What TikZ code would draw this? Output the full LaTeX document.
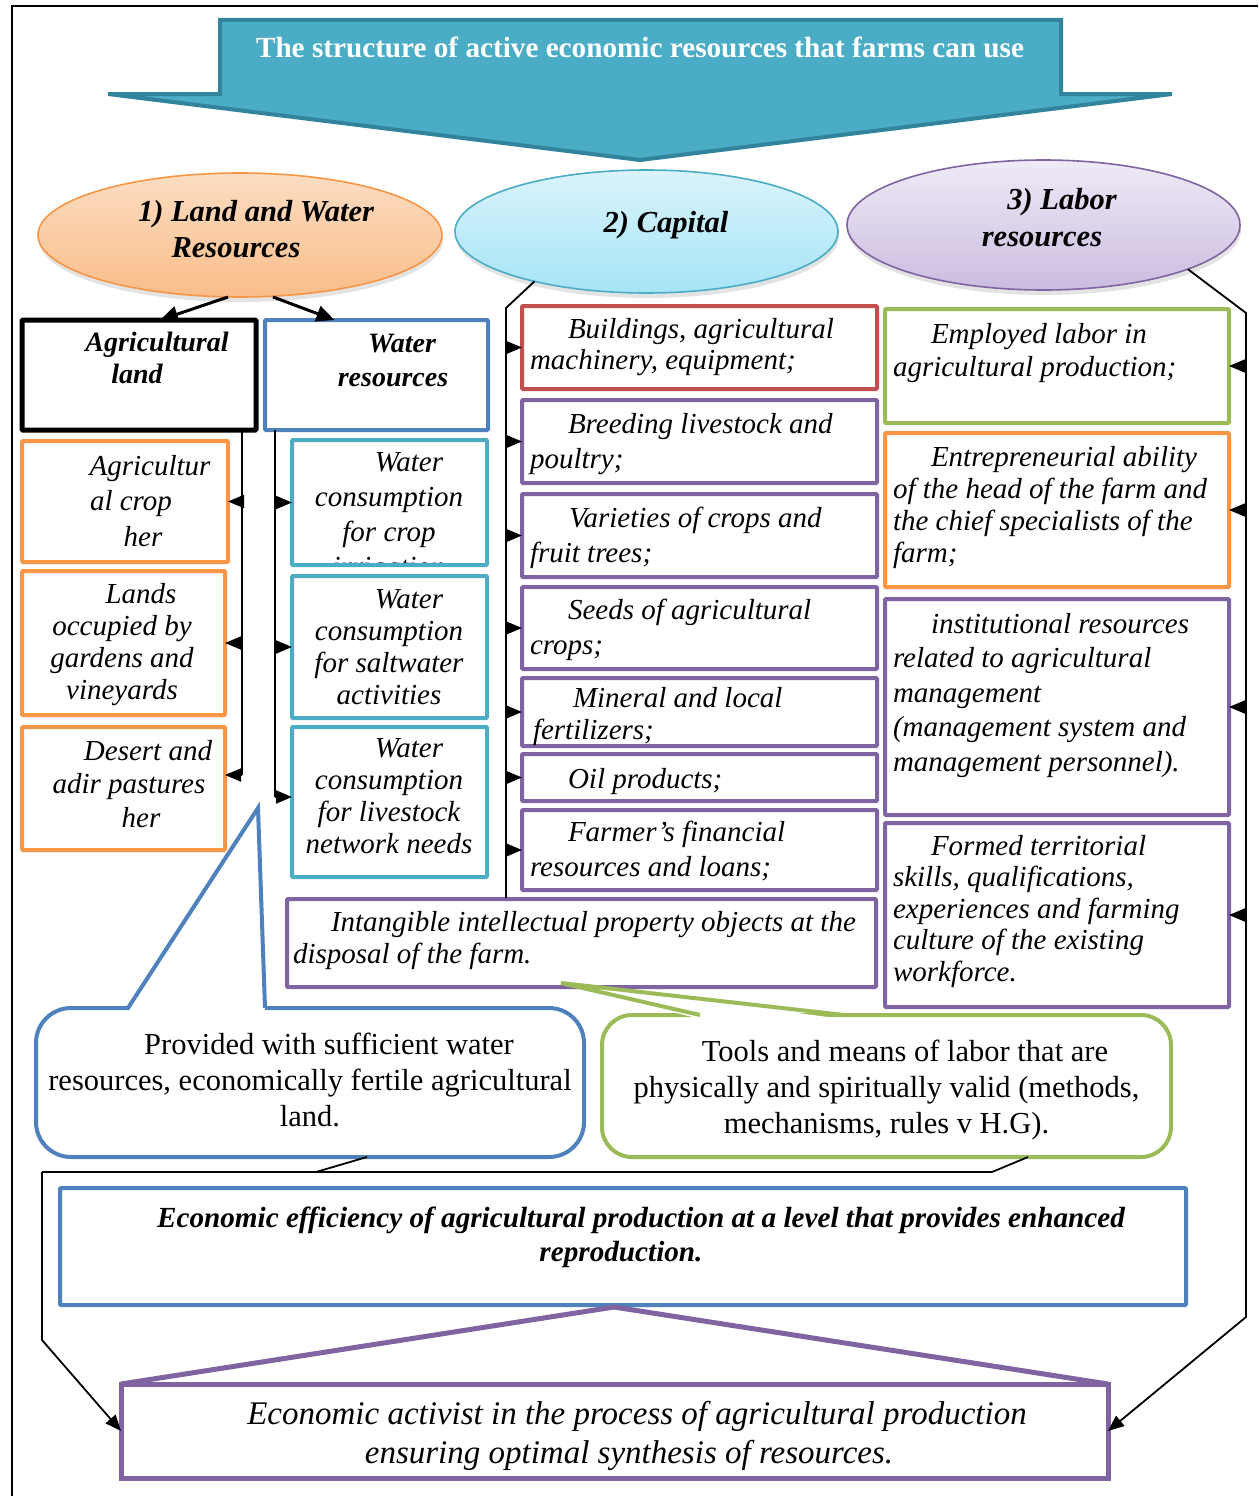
\documentclass[tikz,border=0pt]{standalone}
\usepackage{fontspec}
\setmainfont{Liberation Serif}
\usetikzlibrary{shapes.geometric,arrows.meta,shadows,calc}
\definecolor{cRed}{HTML}{C0504D}
\definecolor{cPur}{HTML}{8064A2}
\definecolor{cOra}{HTML}{F79646}
\definecolor{cGre}{HTML}{9BBB59}
\definecolor{cBlu}{HTML}{4F81BD}
\definecolor{cCya}{HTML}{4BACC6}
\definecolor{cTeal}{HTML}{31849B}
\definecolor{e1t}{HTML}{FCDDC2}
\definecolor{e1b}{HTML}{F9BD8A}
\definecolor{e2t}{HTML}{DAF4FC}
\definecolor{e2b}{HTML}{A6E4F6}
\definecolor{e3t}{HTML}{EFEAF6}
\definecolor{e3b}{HTML}{CBBCE0}
\newcommand\fsz[2]{\fontsize{#1}{#2}\selectfont}
\begin{document}
\begin{tikzpicture}[x=1pt,y=-1pt,
  every node/.style={outer sep=0pt},
  box/.style={draw, line width=4pt, fill=white, inner sep=0pt, anchor=north west, rounded corners=1pt},
  tx/.style={inner sep=0pt, font=\fsz{29}{#1}\itshape},
  tx/.default=33,
  tb/.style={inner sep=0pt, font=\fsz{28}{#1}\bfseries\itshape},
  tb/.default=32,
  tr/.style={inner sep=0pt, font=\fsz{30.5}{36}},
  conn/.style={line width=1.8pt, line join=miter},
  arr/.style={conn, -{Triangle[length=16pt,width=13pt]}},
  bigarr/.style={line width=3pt, -{Triangle[length=18pt,width=16pt]}},
  ell/.style={ellipse, line width=1.6pt, inner sep=0pt, drop shadow={shadow xshift=1pt, shadow yshift=-5pt, opacity=0.22}},
  callout/.style={draw, line width=4pt, fill=white, rounded corners=#1, inner sep=0pt},
]
\useasboundingbox (0,0) rectangle (1258,1496);
\fill[white] (0,0) rectangle (1258,1496);
% frame
\draw[line width=2.5pt] (12,1496) -- (12,6) -- (1258,6);

% title arrow
\draw[line width=4pt, draw=cTeal, fill=cCya, line join=miter]
  (220,20) -- (1061,20) -- (1061,94) -- (1172,94) -- (640,160) -- (108,94) -- (220,94) -- cycle;
\node[inner sep=0pt, text=white, font=\fsz{29.2}{34}\bfseries] (title) at (640,47) {The structure of active economic resources that farms can use};

% ellipses
\node[ell, draw=cOra, top color=e1t, bottom color=e1b, minimum width=404, minimum height=124] (e1) at (240,235) {};
\node[inner sep=0pt, font=\fsz{30.5}{36}\bfseries\itshape, anchor=north, align=center] (e1x) at (236,200) {\hspace*{40pt}1) Land and Water\\Resources};
\node[ell, draw=cCya, top color=e2t, bottom color=e2b, minimum width=383, minimum height=123] (e2) at (646.5,231.5) {};
\node[inner sep=0pt, font=\fsz{30.5}{36}\bfseries\itshape] (e2x) at (666,225) {2) Capital};
\node[ell, draw=cPur, top color=e3t, bottom color=e3b, minimum width=393, minimum height=130] (e3) at (1043.5,225) {};
\node[inner sep=0pt, font=\fsz{30.5}{37}\bfseries\itshape, anchor=north, align=center] (e3x) at (1042,188) {\hspace*{40pt}3) Labor\\resources};

% left column: land
\node[box, draw=black, line width=5pt, minimum width=234, minimum height=110] (ag) at (22,320) {};
\node[tb, anchor=north, align=center] (agt) at (137,332) {\hspace*{40pt}Agricultural\\land};
\node[box, draw=cBlu, minimum width=223, minimum height=110] (wr) at (265,320) {};
\node[tb=34, anchor=north, align=center] (wrt) at (393,334) {\hspace*{18pt}Water\\resources};

\draw[bigarr] ($(e1.south)+(-12,0)$) -- ($(ag.north)+(21,0)$);
\draw[bigarr] ($(e1.south)+(33,0)$) -- ($(wr.north)+(-42,0)$);

\node[box, draw=cOra, minimum width=206, minimum height=121] (o1) at (22,441) {};
\node[tx=35.5, anchor=north, align=center] (o1t) at (131,455) {\hspace*{38pt}Agricultur\\al crop\\\hspace*{24pt}her};
\node[box, draw=cOra, minimum width=203, minimum height=144] (o2) at (22,571) {};
\node[tx=32, anchor=north, align=center] (o2t) at (122,583) {\hspace*{38pt}Lands\\occupied by\\gardens and\\vineyards};
\node[box, draw=cOra, minimum width=203, minimum height=123] (o3) at (22,727) {};
\node[tx=33.5, anchor=north, align=center] (o3t) at (129,740) {\hspace*{38pt}Desert and\\adir pastures\\\hspace*{24pt}her};

\node[box, draw=cCya, minimum width=195, minimum height=125] (w1) at (292,440) {};
\begin{scope}
\clip (294,442) rectangle (485,562);
\node[tx=35, anchor=north, align=center] (w1t) at (389,453) {\hspace*{40pt}Water\\consumption\\for crop\\\smash{irrigation}};
\end{scope}
\node[box, draw=cCya, minimum width=195, minimum height=142] (w2) at (292,576) {};
\node[tx=32, anchor=north, align=center] (w2t) at (389,590) {\hspace*{40pt}Water\\consumption\\for saltwater\\activities};
\node[box, draw=cCya, minimum width=195, minimum height=150] (w3) at (292,727) {};
\node[tx=32, anchor=north, align=center] (w3t) at (389,739) {\hspace*{40pt}Water\\consumption\\for livestock\\network needs};

\coordinate (agS) at (242,430);
\coordinate (agE) at (242,775);
\draw[conn] (agS) -- (agE);
\draw[arr] (agS |- o1.east) -- (o1.east);
\draw[arr] (agS |- o2.east) -- (o2.east);
\draw[arr] (agE) -- (agE -| o3.east);
\coordinate (wrS) at (275,430);
\coordinate (wrE) at (275,797);
\draw[conn] (wrS) -- (wrE);
\draw[arr] (wrS |- w1.west) -- (w1.west);
\draw[arr] (wrS |- w2.west) -- (w2.west);
\draw[arr] (wrE) -- (wrE -| w3.west);

% capital column
\node[box, draw=cRed, minimum width=355, minimum height=83] (c1) at (522,306) {};
\node[tx=31, anchor=north west, align=left] (c1t) at (530,318) {\hspace*{38pt}Buildings, agricultural\\machinery, equipment;};
\node[box, draw=cPur, minimum width=355, minimum height=83] (c2) at (522,400) {};
\node[tx=35, anchor=north west, align=left] (c2t) at (530,413) {\hspace*{38pt}Breeding livestock and\\poultry;};
\node[box, draw=cPur, minimum width=355, minimum height=83] (c3) at (522,494) {};
\node[tx=35, anchor=north west, align=left] (c3t) at (530,507) {\hspace*{39pt}Varieties of crops and\\fruit trees;};
\node[box, draw=cPur, minimum width=355, minimum height=82] (c4) at (522,587) {};
\node[tx=35, anchor=north west, align=left] (c4t) at (530,599) {\hspace*{38pt}Seeds of agricultural\\crops;};
\node[box, draw=cPur, minimum width=355, minimum height=68] (c5) at (522,678) {};
\node[tx=32, anchor=north west, align=left] (c5t) at (530,687) {\hspace*{43pt}Mineral and local\\\hspace*{3pt}fertilizers;};
\node[box, draw=cPur, minimum width=355, minimum height=47] (c6) at (522,754) {};
\node[tx, anchor=north west, align=left] (c6t) at (530,768) {\hspace*{38pt}Oil products;};
\node[box, draw=cPur, minimum width=355, minimum height=80] (c7) at (522,810) {};
\node[tx=35, anchor=north west, align=left] (c7t) at (530,821) {\hspace*{38pt}Farmer's financial\\resources and loans;};
\node[box, draw=cPur, minimum width=589, minimum height=88] (c8) at (287,899) {};
\node[tx=32, anchor=north west, align=left] (c8t) at (293,911) {\hspace*{38pt}Intangible intellectual property objects at the\\disposal of the farm.};

\coordinate (capTop) at (506,308);
\coordinate (capBot) at (506,898);
\draw[conn] (e2.204.5) -- (capTop) -- (capBot);
\foreach \b in {c1,c2,c3,c4,c5,c6,c7}{
  \draw[arr] (capTop |- \b.west) -- (\b.west);
}

% labor column
\node[box, draw=cGre, minimum width=344, minimum height=114] (l1) at (885,309) {};
\node[tx, anchor=north west, align=left] (l1t) at (893,323) {\hspace*{38pt}Employed labor in\\agricultural production;};
\node[box, draw=cOra, minimum width=344, minimum height=154] (l2) at (885,433) {};
\node[tx=32, anchor=north west, align=left] (l2t) at (893,446) {\hspace*{38pt}Entrepreneurial ability\\of the head of the farm and\\the chief specialists of the\\farm;};
\node[box, draw=cPur, minimum width=344, minimum height=216] (l3) at (885,599) {};
\node[tx=34.5, anchor=north west, align=left] (l3t) at (893,613) {\hspace*{38pt}institutional resources\\related to agricultural\\management\\(management system and\\management personnel).};
\node[box, draw=cPur, minimum width=344, minimum height=184] (l4) at (885,823) {};
\node[tx=31.5, anchor=north west, align=left] (l4t) at (893,835) {\hspace*{38pt}Formed territorial\\skills, qualifications,\\experiences and farming\\culture of the existing\\workforce.};

% bottom boxes
\node[box, draw=cBlu, minimum width=1126, minimum height=117] (eco) at (60,1188) {};
\node[inner sep=0pt, font=\fsz{29.2}{34}\bfseries\itshape, anchor=north, align=center] (ecot) at (621,1207) {\hspace*{40pt}Economic efficiency of agricultural production at a level that provides enhanced\\reproduction.};

\coordinate (roof) at (614,1307);
\node[draw=cPur, line width=5pt, fill=white, inner sep=0pt, anchor=north west, minimum width=987, minimum height=94] (act) at (121,1384) {};
\draw[draw=cPur, line width=5pt, line join=miter] (act.north west) -- (roof) -- (act.north east);
\node[inner sep=0pt, font=\fsz{33}{39}\itshape, anchor=north, align=center] (actt) at (629,1401) {\hspace*{16pt}Economic activist in the process of agricultural production\\ensuring optimal synthesis of resources.};

\coordinate (labTop) at (1246,313);
\coordinate (labBot) at (1246,1317);
\draw[arr] (e3.343.6) -- (labTop) -- (labBot) -- (act.east);
\foreach \b in {l1,l2,l3,l4}{
  \draw[arr] (labTop |- \b.east) -- (\b.east);
}

% callouts
\node[callout=35, draw=cBlu, minimum width=548, minimum height=149] (cb) at (310,1082.5) {};
\coordinate (cbTip) at (258,808);
\begin{scope}
\clip (0,1003) rectangle (1258,1013);
\fill[white] ($(cb.north)+(-182,4)$) -- (cbTip) -- ($(cb.north)+(-45,4)$) -- cycle;
\end{scope}
\draw[draw=cBlu, line width=4pt, line join=miter] ($(cb.north)+(-182,0)$) -- (cbTip) -- ($(cb.north)+(-45,0)$);
\node[tr, anchor=north, align=center] (cbt) at (310,1033) {\hspace*{38pt}Provided with sufficient water\\resources, economically fertile agricultural\\land.};

\node[callout=30, draw=cGre, minimum width=569, minimum height=142] (cg) at (886.5,1086) {};
\coordinate (cgTip) at (561,983);
\begin{scope}
\clip (0,1008) rectangle (1258,1020);
\fill[white] ($(cg.north)+(-186.5,4)$) -- (cgTip) -- ($(cg.north)+(-42.5,4)$) -- cycle;
\end{scope}
\draw[draw=cGre, line width=4pt, line join=miter] ($(cg.north)+(-186.5,0)$) -- (cgTip) -- ($(cg.north)+(-42.5,0)$);
\node[tr, anchor=north, align=center] (cgt) at (886.5,1040) {\hspace*{37pt}Tools and means of labor that are\\physically and spiritually valid (methods,\\mechanisms, rules v H.G).};

% bracket
\coordinate (bl) at (42,1172);
\coordinate (bm) at (316,1172);
\coordinate (br) at (992,1172);
\coordinate (lbBot) at (42,1340);
\draw[conn] ($(cb.south)+(57,0)$) -- (bm);
\draw[conn] ($(cg.south)+(141.5,0)$) -- (br);
\draw[conn] (bl) -- (br);
\draw[arr] (bl) -- (lbBot) -- (act.west);
\end{tikzpicture}
\end{document}
